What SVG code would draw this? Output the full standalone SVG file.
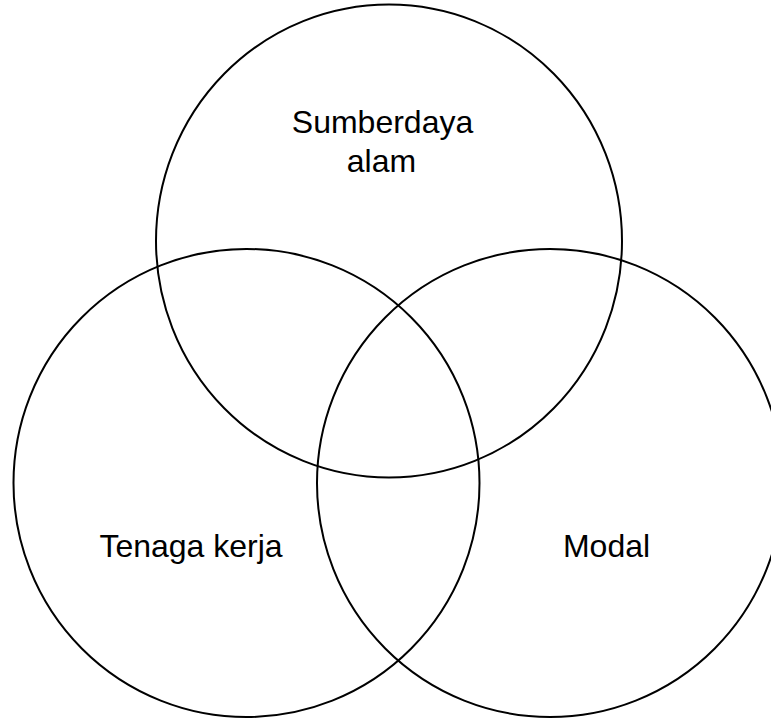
<svg xmlns="http://www.w3.org/2000/svg" width="771" height="718" viewBox="0 0 771 718">
<style>
.c{fill:none;stroke:#000;stroke-width:2}
.t{font-family:"Liberation Sans",Arial,sans-serif;font-size:32px;fill:#000;text-anchor:middle}
</style>
<rect width="771" height="718" fill="#fff"/>
<g id="sumberdaya">
<ellipse class="c" cx="389" cy="241" rx="233" ry="236.5"/>
<text class="t" x="382.5" y="133">Sumberdaya</text>
<text class="t" x="381.5" y="171.5">alam</text>
</g>
<g id="tenaga">
<ellipse class="c" cx="246.5" cy="483" rx="233" ry="234"/>
<text class="t" x="191" y="557">Tenaga kerja</text>
</g>
<g id="modal">
<ellipse class="c" cx="550" cy="483" rx="233" ry="234"/>
<text class="t" x="606.5" y="557">Modal</text>
</g>
<g id="connectors"></g>
</svg>
